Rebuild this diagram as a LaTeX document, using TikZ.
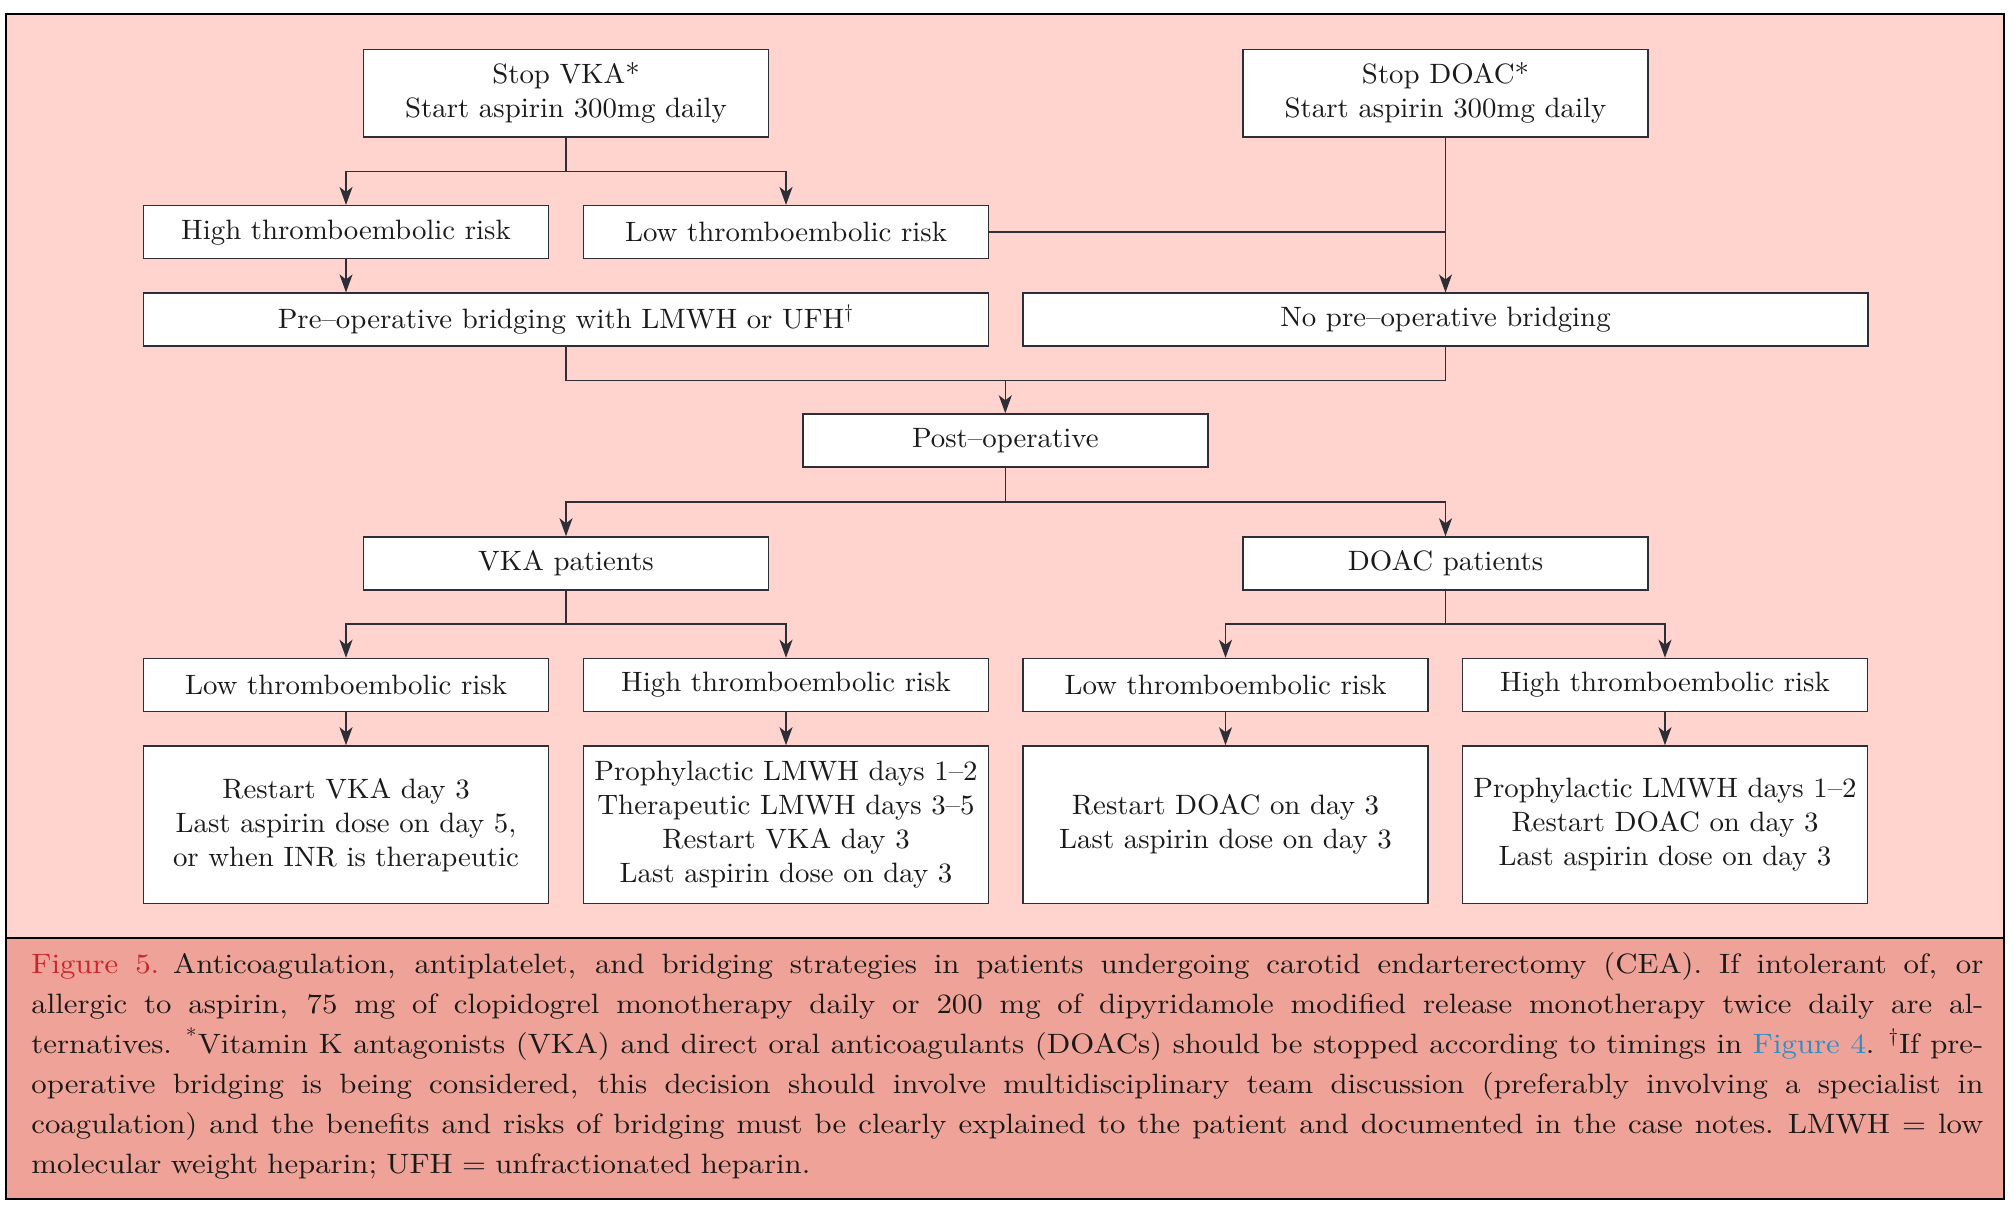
\documentclass[tikz,border=0pt]{standalone}
\usepackage{fontspec}
\newfontfamily\capfont{lmroman10-regular.otf}[Ligatures=TeX,FakeStretch=1.1]
\newfontfamily\boxfont{lmroman10-regular.otf}[Ligatures=TeX,FakeStretch=1.03]
\usetikzlibrary{arrows.meta}
\definecolor{bgpink}{HTML}{FFD4CE}
\definecolor{capbg}{HTML}{EFA297}
\definecolor{figred}{HTML}{C9252F}
\definecolor{figblue}{HTML}{2B8EC6}
\definecolor{lncol}{HTML}{2E2E36}
\definecolor{txtcol}{HTML}{1A1A1A}
\newcommand\jline[1]{\leavevmode\hbox to 976pt{\spaceskip=0.3333em plus 1fil\relax #1}}
\begin{document}
\begin{tikzpicture}[x=0.5pt,y=-0.5pt,
  boxbase/.style={draw=lncol, line width=0.75pt, fill=white, inner sep=0pt, align=center,
    font=\boxfont\fontsize{14}{17}\selectfont, text=txtcol},
  sbox/.style={boxbase, minimum width=202.5pt, minimum height=26.5pt},
  wbox/.style={boxbase, minimum width=422.5pt, minimum height=26.5pt},
  tbox/.style={boxbase, minimum width=202.5pt, minimum height=43.75pt},
  bbox/.style={boxbase, minimum width=202.5pt, minimum height=78.75pt},
  conn/.style={draw=lncol, line width=0.75pt},
  arr/.style={conn, -{Stealth[length=9pt,width=6.5pt,inset=2.5pt]}}]
\useasboundingbox (0,0) rectangle (2014,1211);
\fill[white] (0,0) rectangle (2014,1211);
% backgrounds
\fill[bgpink] (6,14) rectangle (2004,938);
\fill[capbg] (6,938) rectangle (2004,1199);
\draw[black, line width=1pt] (6,14) rectangle (2004,1199);
\draw[black, line width=1pt] (6,938) -- (2004,938);

% nodes
\node[tbox] (vka) at (566,93.3) {Stop VKA*\\Start aspirin 300mg daily};
\node[tbox] (doac) at (1445.5,93.3) {Stop DOAC*\\Start aspirin 300mg daily};
\node[sbox] (hi1) at (346,232.2) {High thromboembolic risk};
\node[sbox] (lo1) at (786,232.2) {Low thromboembolic risk};
\node[wbox] (pre) at (566,319.7) {Pre--operative bridging with LMWH or UFH\textsuperscript{\dag}};
\node[wbox] (nopre) at (1445.5,319.7) {No pre--operative bridging};
\node[sbox] (post) at (1005.3,440.5) {Post--operative};
\node[sbox] (vkap) at (566,563.5) {VKA patients};
\node[sbox] (doacp) at (1445.5,563.5) {DOAC patients};
\node[sbox] (r1) at (346,685) {Low thromboembolic risk};
\node[sbox] (r2) at (786,685) {High thromboembolic risk};
\node[sbox] (r3) at (1225.5,685) {Low thromboembolic risk};
\node[sbox] (r4) at (1665,685) {High thromboembolic risk};
\node[bbox] (b1) at (346,824.7) {Restart VKA day 3\\Last aspirin dose on day 5,\\or when INR is therapeutic};
\node[bbox] (b2) at (786,824.7) {Prophylactic LMWH days 1--2\\Therapeutic LMWH days 3--5\\Restart VKA day 3\\Last aspirin dose on day 3};
\node[bbox] (b3) at (1225.5,824.7) {Restart DOAC on day 3\\Last aspirin dose on day 3};
\node[bbox] (b4) at (1665,824.7) {Prophylactic LMWH days 1--2\\Restart DOAC on day 3\\Last aspirin dose on day 3};

% junctions
\coordinate (j1) at (566,171.5);
\coordinate (j2) at (1005.3,380.5);
\coordinate (j3) at (1005.3,502);
\coordinate (j4) at (566,624);
\coordinate (j5) at (1445.5,624);

% connectors
\draw[conn] (vka.south) -- (j1);
\draw[arr] (j1) -| (hi1.north);
\draw[arr] (j1) -| (lo1.north);
\draw[arr] (hi1.south) -- (hi1.south |- pre.north);
\draw[conn] (lo1.east) -- (lo1.east -| doac.south);
\draw[arr] (doac.south) -- (nopre.north);
\draw[conn] (pre.south) |- (j2) -| (nopre.south);
\draw[arr] (j2) -- (post.north);
\draw[conn] (post.south) -- (j3);
\draw[arr] (j3) -| (vkap.north);
\draw[arr] (j3) -| (doacp.north);
\draw[conn] (vkap.south) -- (j4);
\draw[arr] (j4) -| (r1.north);
\draw[arr] (j4) -| (r2.north);
\draw[conn] (doacp.south) -- (j5);
\draw[arr] (j5) -| (r3.north);
\draw[arr] (j5) -| (r4.north);
\draw[arr] (r1.south) -- (b1.north);
\draw[arr] (r2.south) -- (b2.north);
\draw[arr] (r3.south) -- (b3.north);
\draw[arr] (r4.south) -- (b4.north);

% caption
\node[anchor=north west, inner sep=0pt, text width=976pt, align=left,
  font=\capfont\fontsize{14}{20}\selectfont, text=txtcol] (cap) at (31,952) {%
\jline{\textcolor{figred}{Figure 5.} Anticoagulation, antiplatelet, and bridging strategies in patients undergoing carotid endarterectomy (CEA). If intolerant of, or}\\
\jline{allergic to aspirin, 75 mg of clopidogrel monotherapy daily or 200 mg of dipyridamole modified release monotherapy twice daily are al-}\\
\jline{ternatives. \textsuperscript{*}Vitamin K antagonists (VKA) and direct oral anticoagulants (DOACs) should be stopped according to timings in \textcolor{figblue}{Figure 4}. \textsuperscript{\dag}If pre-}\\
\jline{operative bridging is being considered, this decision should involve multidisciplinary team discussion (preferably involving a specialist in}\\
\jline{coagulation) and the benefits and risks of bridging must be clearly explained to the patient and documented in the case notes. LMWH = low}\\
molecular weight heparin; UFH = unfractionated heparin.};
\end{tikzpicture}
\end{document}
